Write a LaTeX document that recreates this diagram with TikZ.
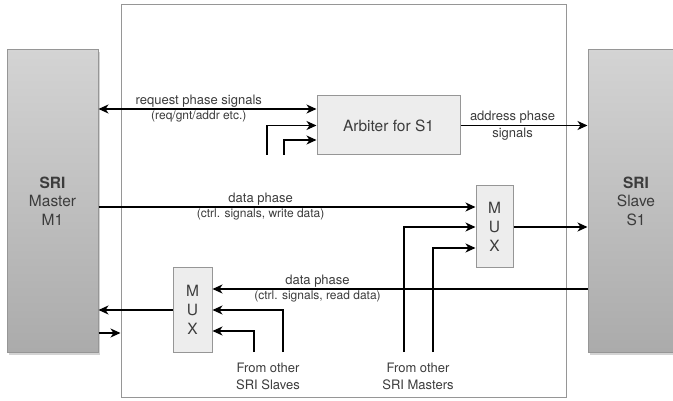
\documentclass[tikz,border=0pt]{standalone}
\usepackage{fontspec}
\setmainfont{TeX Gyre Heros}
\usepackage{tikz}
\usetikzlibrary{positioning, arrows.meta, shadows}
\definecolor{textgray}{RGB}{60,60,60}
\definecolor{boxline}{RGB}{150,150,150}

\begin{document}
\begin{tikzpicture}[
    x=1pt, y=-1pt,
    >={Stealth[length=10pt, width=9pt, inset=3pt]},
    busbox/.style={rectangle, draw=boxline, fill=white, line width=1pt, drop shadow={shadow xshift=1.2pt, shadow yshift=-1.2pt, opacity=0.3}},
    sribox/.style={rectangle, draw=boxline, line width=1pt, top color=black!17, bottom color=black!33, align=center, text=textgray, font=\fontsize{15.5}{18.5}\selectfont, drop shadow={shadow xshift=2pt, shadow yshift=-2.5pt, opacity=0.35}},
    logicbox/.style={rectangle, draw=boxline, fill=black!7, line width=1pt, align=center, text=textgray, font=\fontsize{15.5}{19}\selectfont},
    lbl/.style={font=\fontsize{13}{17}\selectfont, text=textgray, inner sep=1.5pt},
    sublbl/.style={font=\fontsize{12}{14}\selectfont, text=textgray, inner sep=1.5pt},
    arrow/.style={->, line width=1.2pt}
]
\useasboundingbox (0,0) rectangle (673,401);

% Bus frame
\node[busbox, minimum width=445pt, minimum height=392pt] (bus) at (343.5,201) {};

% Master and slave
\node[sribox, minimum width=91pt, minimum height=302pt] (master) at (52.5,201) {\textbf{SRI}\\Master\\M1};
\node[sribox, minimum width=96pt, minimum height=302pt] (slave) at (636,201) {\textbf{SRI}\\Slave\\S1};

% Arbiter
\node[logicbox, minimum width=143pt, minimum height=59pt] (arbiter) at (388.5,125.5) {Arbiter for S1};

% Write data MUX
\node[logicbox, minimum width=37pt, minimum height=82pt, inner sep=0pt] (muxw) at (494.5,227) {M\\U\\X};

% Read data MUX
\node[logicbox, minimum width=39pt, minimum height=84pt, inner sep=0pt] (muxr) at (192.5,310) {M\\U\\X};

% Other sources
\node[lbl, align=center] (fromslv) at (268,376) {From other\\SRI Slaves};
\node[lbl, align=center] (frommst) at (418,376) {From other\\SRI Masters};

\coordinate (arbin1) at (267,155);
\coordinate (arbin2) at (284,155);
\coordinate (mstin1) at (404,352);
\coordinate (mstin2) at (433,352);
\coordinate (slvin1) at (283,352);
\coordinate (slvin2) at (254,352);

% Arrows
\draw[<->, line width=1.2pt] ([yshift=16.5pt]arbiter.west -| master.east) -- node[lbl, above, pos=0.46] {request phase signals} node[sublbl, below, pos=0.46] {(req/gnt/addr etc.)} ([yshift=16.5pt]arbiter.west);
\draw[arrow] (arbin1) |- (arbiter.west);
\draw[arrow] (arbin2) |- ([yshift=-14.5pt]arbiter.west);
\draw[arrow] (arbiter.east) -- node[lbl, above, pos=0.41] {address phase} node[lbl, below, pos=0.41] {signals} (arbiter.east -| slave.west);

\draw[arrow] ([yshift=20pt]muxw.west -| master.east) -- node[lbl, above, pos=0.43] {data phase} node[sublbl, below, pos=0.43] {(ctrl. signals, write data)} ([yshift=20pt]muxw.west);
\draw[arrow] (mstin1) |- (muxw.west);
\draw[arrow] (mstin2) |- ([yshift=-21pt]muxw.west);
\draw[arrow] (muxw.east) -- (muxw.east -| slave.west);

\draw[arrow] ([yshift=21pt]muxr.east -| slave.west) -- node[lbl, above, pos=0.72] {data phase} node[sublbl, below, pos=0.72] {(ctrl. signals, read data)} ([yshift=21pt]muxr.east);
\draw[arrow] (slvin1) |- (muxr.east);
\draw[arrow] (slvin2) |- ([yshift=-21pt]muxr.east);
\draw[arrow] (muxr.west) -- (muxr.west -| master.east);
\draw[arrow] ([yshift=-23pt]muxr.west -| master.east) -- ([yshift=-23pt]muxr.west -| bus.west);

\end{tikzpicture}
\end{document}
